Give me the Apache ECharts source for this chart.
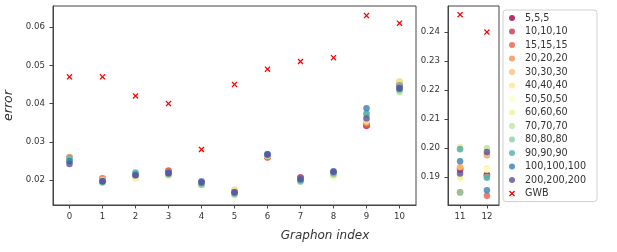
<!DOCTYPE html>
<html><head><meta charset="utf-8">
<script src="https://cdn.jsdelivr.net/npm/echarts@6/dist/echarts.min.js"></script>
<style>html,body{margin:0;padding:0;background:#fff}#c{width:617px;height:252px}</style>
</head><body><div id="c"></div>
<script>
// Graphon indices: 0..10 on the left panel, 11..12 on the right panel
const graphonIdx = [0,1,2,3,4,5,6,7,8,9,10,11,12];
const leftTicks = [0,1,2,3,4,5,6,7,8,9,10];
const rightTicks = [11,12];
const leftYTicks = [0.02,0.03,0.04,0.05,0.06];
const rightYTicks = [0.19,0.20,0.21,0.22,0.23,0.24];

const seriesNames = ['5,5,5','10,10,10','15,15,15','20,20,20','30,30,30','40,40,40','50,50,50','60,60,60','70,70,70','80,80,80','90,90,90','100,100,100','200,200,200'];
const seriesColors = ['#9e0142','#cc344d','#ea5d45','#f88d52','#fdbf6f','#fee594','#ffffbf','#eaf69e','#bee4a0','#88d0a5','#55aead','#397eb8','#5e4fa2'];

const err_5   = [0.0255,0.0200,0.0212,0.0222,0.0193,0.0168,0.0261,0.0207,0.0218,0.0343,0.0443,0.1925,0.1907];
const err_10  = [0.0257,0.0203,0.0211,0.0224,0.0194,0.0169,0.0260,0.0206,0.0217,0.0342,0.0446,0.1929,0.1905];
const err_15  = [0.0259,0.0205,0.0210,0.0225,0.0193,0.0171,0.0259,0.0205,0.0216,0.0344,0.0450,0.1847,0.1835];
const err_20  = [0.0260,0.0204,0.0209,0.0222,0.0192,0.0173,0.0262,0.0203,0.0215,0.0349,0.0455,0.1932,0.1975];
const err_30  = [0.0258,0.0201,0.0207,0.0214,0.0191,0.0175,0.0263,0.0202,0.0213,0.0352,0.0458,0.1935,0.1978];
const err_40  = [0.0256,0.0199,0.0205,0.0211,0.0190,0.0174,0.0264,0.0201,0.0211,0.0356,0.0456,0.2003,0.1928];
const err_50  = [0.0254,0.0197,0.0208,0.0213,0.0189,0.0167,0.0264,0.0200,0.0210,0.0360,0.0440,0.1895,0.1925];
const err_60  = [0.0252,0.0195,0.0212,0.0215,0.0188,0.0163,0.0265,0.0198,0.0212,0.0366,0.0432,0.1898,0.1997];
const err_70  = [0.0250,0.0193,0.0215,0.0216,0.0187,0.0161,0.0265,0.0197,0.0214,0.0370,0.0430,0.1995,0.1999];
const err_80  = [0.0248,0.0194,0.0218,0.0214,0.0188,0.0164,0.0264,0.0196,0.0216,0.0372,0.0435,0.1845,0.1900];
const err_90  = [0.0258,0.0196,0.0220,0.0217,0.0192,0.0166,0.0266,0.0199,0.0219,0.0375,0.0448,0.1996,0.1897];
const err_100 = [0.0250,0.0198,0.0214,0.0220,0.0197,0.0168,0.0268,0.0202,0.0223,0.0388,0.0438,0.1954,0.1854];
const err_200 = [0.0242,0.0197,0.0212,0.0218,0.0194,0.0168,0.0267,0.0203,0.0222,0.0361,0.0441,0.1912,0.1986];
const err_GWB = [0.047,0.047,0.042,0.040,0.028,0.045,0.049,0.051,0.052,0.063,0.061,0.246,0.240];

const seriesValues = [err_5,err_10,err_15,err_20,err_30,err_40,err_50,err_60,err_70,err_80,err_90,err_100,err_200];

const xPath = 'path://M0,1.5L1.5,0L5,3.5L8.5,0L10,1.5L6.5,5L10,8.5L8.5,10L5,6.5L1.5,10L0,8.5L3.5,5Z';
const AX = '#444', TXT = '#333', FF = 'DejaVu Sans';

function split(vals){
  const l=[], r=[];
  graphonIdx.forEach((g,i)=>{ (g<=10?l:r).push([g, vals[i]]); });
  return [l,r];
}

const series = [];
seriesNames.forEach((n,k)=>{
  const [l,r] = split(seriesValues[k]);
  [l,r].forEach((d,gi)=>series.push({
    name:n, type:'scatter', xAxisIndex:gi, yAxisIndex:gi, data:d,
    symbol:'circle', symbolSize:6.5,
    itemStyle:{color:seriesColors[k], opacity:0.8}
  }));
});
{
  const [l,r] = split(err_GWB);
  [l,r].forEach((d,gi)=>series.push({
    name:'GWB', type:'scatter', xAxisIndex:gi, yAxisIndex:gi, data:d,
    symbol:xPath, symbolSize:6, itemStyle:{color:'#ff0000', opacity:1}
  }));
}

function xAx(gi,min,max,ticks){
  return {gridIndex:gi,type:'value',min:min,max:max,
    axisLine:{show:true,onZero:false,lineStyle:{color:AX,width:1}},
    axisTick:{show:true,length:3.5,customValues:ticks,lineStyle:{color:AX}},
    axisLabel:{customValues:ticks,fontSize:8.6,color:TXT,margin:7,fontFamily:FF},
    splitLine:{show:false}};
}
function yAx(gi,min,max,ticks,extra){
  return Object.assign({gridIndex:gi,type:'value',min:min,max:max,
    axisLine:{show:true,onZero:false,lineStyle:{color:AX,width:1}},
    axisTick:{show:true,length:3.5,customValues:ticks,lineStyle:{color:AX}},
    axisLabel:{customValues:ticks,fontSize:8.6,color:TXT,margin:8,fontFamily:FF,formatter:v=>v.toFixed(2)},
    splitLine:{show:false}}, extra||{});
}

const chart = echarts.init(document.getElementById('c'), null, {renderer:'canvas'});
chart.setOption({
  animation:false,
  textStyle:{fontFamily:FF},
  grid:[
    {left:53,top:6,width:363,height:199,show:true,borderColor:AX,borderWidth:1,backgroundColor:'transparent',containLabel:false,outerBoundsMode:'none'},
    {left:448,top:6,width:51,height:199,show:true,borderColor:AX,borderWidth:1,backgroundColor:'transparent',containLabel:false,outerBoundsMode:'none'}
  ],
  xAxis:[xAx(0,-0.5,10.5,leftTicks), xAx(1,10.55,12.45,rightTicks)],
  yAxis:[
    yAx(0,0.0135,0.0655,leftYTicks,{name:'error',nameLocation:'middle',nameRotate:90,nameGap:35,
      nameTextStyle:{fontSize:12.5,fontStyle:'italic',color:TXT,fontFamily:FF}}),
    yAx(1,0.1803,0.249,rightYTicks)
  ],
  legend:{
    orient:'vertical', left:503, top:10, padding:[3,11,3,6],
    itemWidth:16, itemHeight:6, itemGap:3.5,
    textStyle:{fontSize:9.6,color:TXT,lineHeight:10,fontFamily:FF},
    borderColor:'#d0d0d0', borderWidth:1, borderRadius:3,
    data: seriesNames.map(n=>({name:n,icon:'circle'})).concat([{name:'GWB',icon:xPath}])
  },
  graphic:[{type:'text',x:325,y:236,style:{text:'Graphon index',fontSize:12,fontStyle:'italic',fill:TXT,fontFamily:FF,textAlign:'center',textVerticalAlign:'middle'}}],
  series:series
});
</script></body></html>
